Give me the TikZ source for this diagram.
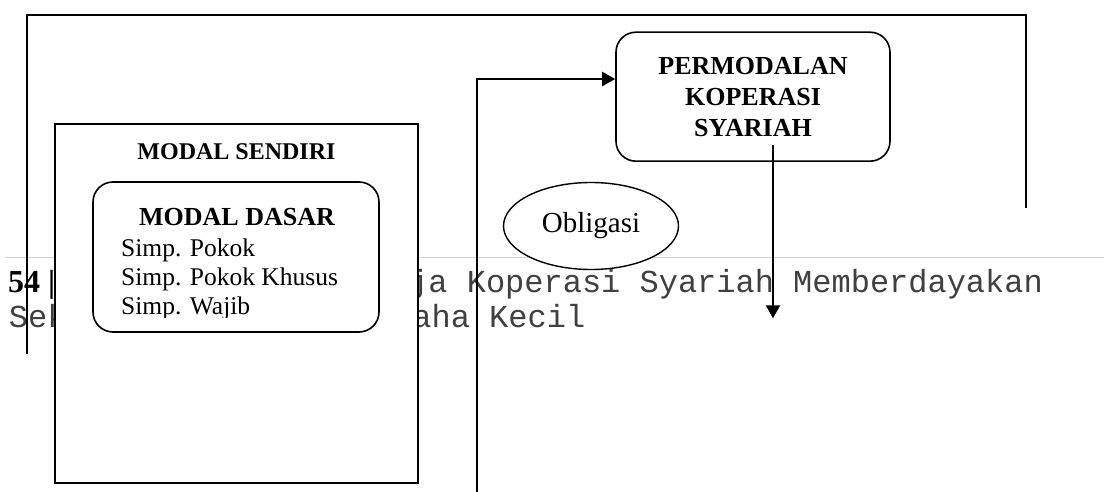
\documentclass[tikz,border=0pt]{standalone}
\usepackage{fontspec}
\setmainfont{Liberation Serif}
\newfontfamily\courierfont{Liberation Mono}
\usetikzlibrary{shapes.geometric,arrows.meta}

\definecolor{rulegrey}{HTML}{D4D4D4}
\definecolor{footink}{HTML}{404040}

\begin{document}
\begin{tikzpicture}[x=1pt,y=-1pt,
  frame/.style={line width=1.6pt, line cap=butt},
  plainbox/.style={draw, line width=1.6pt, fill=white, inner sep=0pt},
  roundbox/.style={plainbox, rounded corners=20pt},
  oval/.style={draw, ellipse, line width=1.4pt, fill=white, inner sep=0pt},
  link/.style={line width=2.2pt},
  arrowlink/.style={link, -{Triangle[length=13pt,width=14pt]}},
  txt/.style={inner sep=0pt, anchor=base west},
  headsmall/.style={inner sep=0pt, font=\fontsize{24}{29}\selectfont\bfseries},
  headbig/.style={inner sep=0pt, font=\fontsize{26}{31}\selectfont\bfseries},
  body/.style={txt, font=\fontsize{25.5}{29}\selectfont},
  mono/.style={txt, text=footink, font=\fontsize{32}{36}\courierfont},
]
\useasboundingbox (0,0) rectangle (1104,492);
\fill[white] (0,0) rectangle (1104,492);

% running footer of the page, lying underneath the chart
\draw[line width=1.5pt, rulegrey] (5,257.5) -- (1104,257.5);
\node[txt, font=\fontsize{32}{36}\selectfont\bfseries] (pagenum) at (8,292.5) {54 |};
\node[mono] (footA) at (409,292.5) {ja Koperasi Syariah Memberdayakan};
\node[mono] (footB) at (8.7,327.5) {Sek};
\node[mono] (footC) at (412.2,327.5) {aha Kecil};

% outer frame
\coordinate (frameBL) at (27,354);
\coordinate (frameTL) at (27,15);
\coordinate (frameTR) at (1026,15);
\coordinate (frameBR) at (1026,208);
\draw[frame] (frameBL) -- (frameTL) -- (frameTR) -- (frameBR);

% own capital
\node[plainbox, minimum width=363pt, minimum height=359pt] (sendiri) at (236.5,303.5) {};
\node[headsmall] (sendiriT) at (236.5,152) {MODAL SENDIRI};

\node[roundbox, minimum width=286pt, minimum height=150pt] (dasar) at (236,257) {};
\node[headbig] (dasarT) at (237,217) {MODAL DASAR};
\node[body] (s1) at (121,256) {Simp. Pokok};
\node[body] (s2) at (121,285) {Simp. Pokok Khusus};
\begin{scope}
  \clip (100,290) rectangle (370,317.5);
  \node[body] (s3) at (121,314) {Simp. Wajib};
\end{scope}

% bonds
\node[oval, minimum width=175pt, minimum height=87pt,
      font=\fontsize{29}{33}\selectfont] (obligasi) at (591,226) {Obligasi};

% cooperative capital
\node[roundbox, minimum width=274pt, minimum height=129pt, align=center,
      font=\fontsize{26}{31}\selectfont\bfseries] (permodalan) at (753,96.7)
      {PERMODALAN\\KOPERASI\\SYARIAH};

% connectors
\coordinate (feedBottom) at (477,492);
\coordinate (feedCorner) at (477,79);
\draw[arrowlink] (feedBottom) -- (feedCorner) -- (feedCorner -| permodalan.west);

\coordinate (outStart) at (773,145);
\coordinate (outEnd) at (773,318.3);
\draw[arrowlink] (outStart) -- (outEnd);
\end{tikzpicture}
\end{document}
